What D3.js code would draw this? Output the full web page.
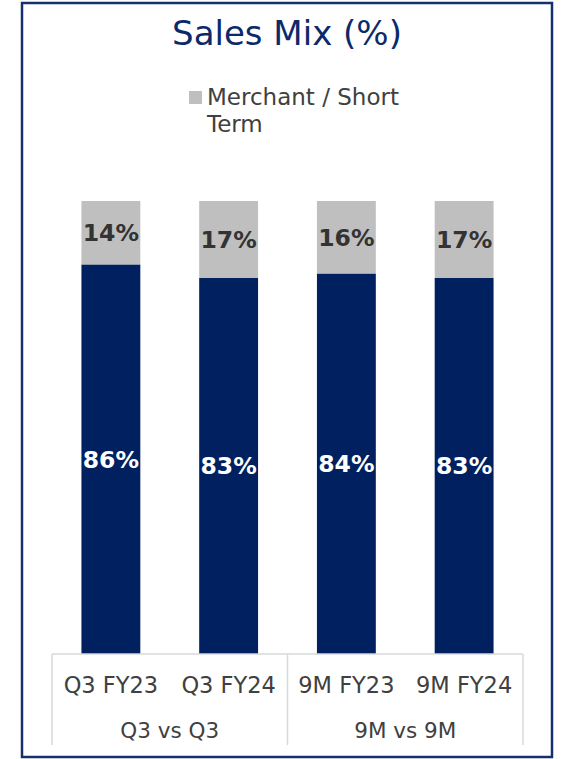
<!DOCTYPE html>
<html lang="en">
  <head>
    <meta charset="UTF-8" />
    <title>Sales Mix (%)</title>
    <script src="https://d3js.org/d3.v7.min.js"></script>
    <style>
      body { margin: 0; background: #fff; }
      text { font-family: "DejaVu Sans", "Noto Sans", sans-serif; }
    </style>
  </head>
  <body>
    <svg width="562" height="759"></svg>

    <script>
      // chart data
      const categories = ["Q3 FY23", "Q3 FY24", "9M FY23", "9M FY24"];
      const groups = ["Q3 vs Q3", "9M vs 9M"];
      const longTerm = [86, 83, 84, 83];
      const merchant = [14, 17, 16, 17];
      const legendLines = ["Merchant / Short", "Term"];

      const navy = "#002060",
        grey = "#bfbfbf";

      let svg = d3.select("svg");

      // outer frame
      svg.append("rect")
        .attr("x", 22).attr("y", 3)
        .attr("width", 530).attr("height", 754)
        .attr("fill", "none")
        .attr("stroke", "#14306e")
        .attr("stroke-width", 2.5);

      // title
      svg.append("text")
        .attr("x", 287).attr("y", 45)
        .attr("text-anchor", "middle")
        .attr("font-size", 34)
        .attr("fill", "#0b2a6a")
        .text("Sales Mix (%)");

      // legend
      svg.append("rect")
        .attr("x", 189).attr("y", 91)
        .attr("width", 13).attr("height", 13)
        .attr("fill", grey);
      svg.append("g")
        .selectAll("text")
        .data(legendLines)
        .join("text")
        .attr("x", 207)
        .attr("y", (d, i) => 105 + i * 27)
        .attr("font-size", 23)
        .attr("fill", "#404040")
        .text(d => d);

      // scales
      let x = d3.scaleBand()
        .domain(categories)
        .range([52, 523])
        .paddingInner(0.5)
        .paddingOuter(0.25);
      let y = d3.scaleLinear().domain([0, 100]).range([654, 201]);

      // stacked bars
      const rows = categories.map((c, i) => ({ cat: c, longTerm: longTerm[i], merchant: merchant[i] }));
      const stack = d3.stack().keys(["longTerm", "merchant"])(rows);
      const fills = { longTerm: navy, merchant: grey };
      const labelCol = { longTerm: "#ffffff", merchant: "#333333" };

      stack.forEach(layer => {
        let g = svg.append("g");
        g.selectAll("rect")
          .data(layer)
          .join("rect")
          .attr("x", d => x(d.data.cat))
          .attr("width", x.bandwidth())
          .attr("y", d => y(d[1]))
          .attr("height", d => y(d[0]) - y(d[1]))
          .attr("fill", fills[layer.key]);
        g.selectAll("text")
          .data(layer)
          .join("text")
          .attr("x", d => x(d.data.cat) + x.bandwidth() / 2)
          .attr("y", d => (y(d[0]) + y(d[1])) / 2)
          .attr("dy", "0.36em")
          .attr("text-anchor", "middle")
          .attr("font-size", 23.5)
          .attr("font-weight", "bold")
          .attr("fill", labelCol[layer.key])
          .text(d => d.data[layer.key] + "%");
      });

      // category axis with grouped labels
      const axisY = 654, axisBottom = 745;
      const lineCol = "#d9d9d9";
      svg.append("line")
        .attr("x1", 52).attr("x2", 523)
        .attr("y1", axisY).attr("y2", axisY)
        .attr("stroke", lineCol).attr("stroke-width", 1.5);

      const groupEdges = [52, (x(categories[1]) + x.bandwidth() + x(categories[2])) / 2, 523];
      svg.append("g")
        .selectAll("line")
        .data(groupEdges)
        .join("line")
        .attr("x1", d => d).attr("x2", d => d)
        .attr("y1", axisY).attr("y2", axisBottom)
        .attr("stroke", lineCol).attr("stroke-width", 1.5);

      svg.append("g")
        .selectAll("text")
        .data(categories)
        .join("text")
        .attr("x", d => x(d) + x.bandwidth() / 2)
        .attr("y", 693)
        .attr("text-anchor", "middle")
        .attr("font-size", 22.5)
        .attr("fill", "#404040")
        .text(d => d);

      svg.append("g")
        .selectAll("text")
        .data(groups)
        .join("text")
        .attr("x", (d, i) => (groupEdges[i] + groupEdges[i + 1]) / 2)
        .attr("y", 738)
        .attr("text-anchor", "middle")
        .attr("font-size", 21.5)
        .attr("fill", "#404040")
        .text(d => d);
    </script>
  </body>
</html>
